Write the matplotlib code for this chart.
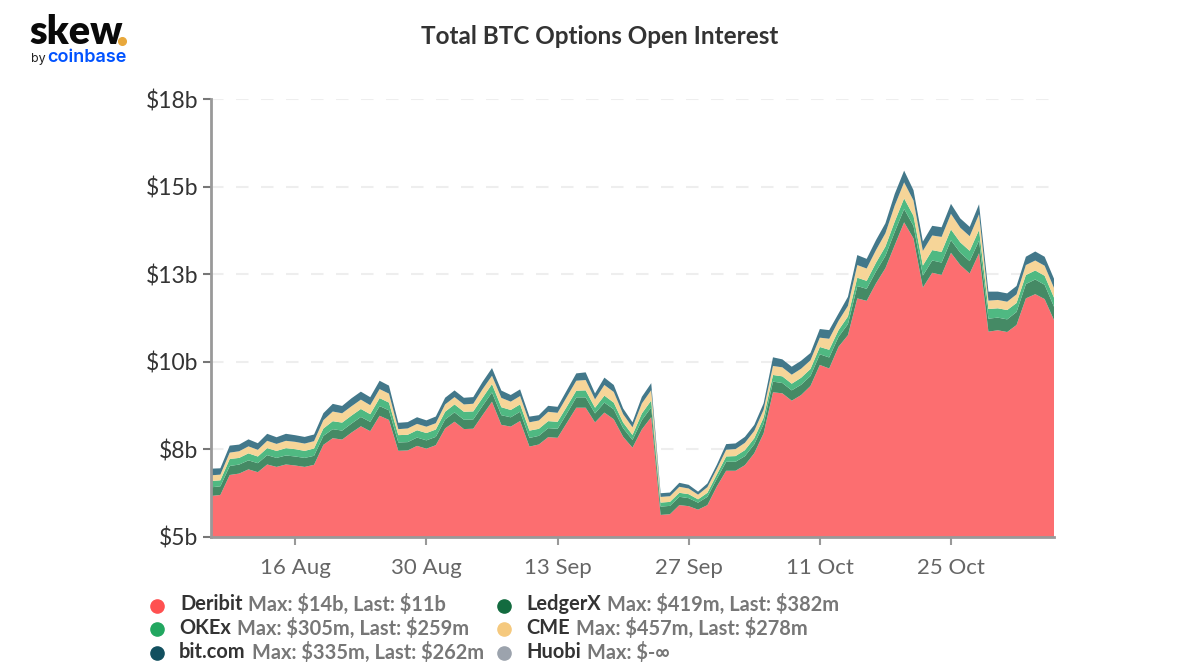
import matplotlib
matplotlib.use('Agg')
import matplotlib.pyplot as plt
import matplotlib.dates as mdates
import pandas as pd

FONT = 'Lato'
W, H = 1200, 670

# daily values, $b for Deribit and $m for the smaller venues
deribit = [6.17, 6.20, 6.77, 6.81, 6.93, 6.85, 7.07, 7.00, 7.07, 7.04,
           7.00, 7.06, 7.63, 7.82, 7.78, 7.98, 8.16, 8.02, 8.46, 8.34,
           7.46, 7.47, 7.60, 7.52, 7.62, 8.10, 8.29, 8.08, 8.09, 8.48,
           8.86, 8.20, 8.15, 8.31, 7.58, 7.64, 7.85, 7.83, 8.26, 8.69,
           8.69, 8.27, 8.55, 8.36, 7.86, 7.55, 8.07, 8.42, 5.63, 5.65,
           5.91, 5.88, 5.78, 5.91, 6.44, 6.89, 6.89, 7.05, 7.39, 7.96,
           9.13, 9.10, 8.89, 9.05, 9.31, 9.91, 9.81, 10.43, 10.76, 11.81,
           11.74, 12.24, 12.67, 13.33, 13.98, 13.52, 12.12, 12.54, 12.48, 13.11,
           12.76, 12.52, 13.10, 10.86, 10.90, 10.85, 11.05, 11.81, 11.93, 11.79,
           11.19]
ledgerx = [247, 247, 257, 257, 257, 257, 266, 257, 257, 257,
           257, 257, 257, 257, 257, 257, 266, 266, 276, 276,
           238, 238, 238, 238, 238, 257, 266, 266, 266, 266,
           266, 276, 266, 266, 247, 247, 257, 257, 266, 295,
           295, 257, 285, 285, 247, 219, 266, 276, 238, 238,
           238, 228, 200, 238, 219, 257, 257, 257, 257, 266,
           304, 295, 295, 295, 285, 304, 314, 285, 314, 352,
           342, 342, 352, 380, 380, 361, 342, 352, 352, 361,
           352, 352, 361, 371, 361, 361, 371, 409, 419, 409,
           382]
okex = [181, 171, 200, 190, 200, 190, 200, 200, 209, 209,
        200, 209, 209, 228, 228, 228, 228, 219, 228, 219,
        209, 209, 209, 209, 209, 219, 228, 228, 228, 228,
        238, 228, 209, 209, 209, 200, 200, 200, 200, 190,
        200, 162, 200, 190, 162, 143, 190, 200, 114, 114,
        114, 114, 95, 114, 124, 152, 162, 171, 171, 181,
        190, 190, 190, 200, 200, 209, 219, 190, 219, 238,
        228, 247, 266, 295, 304, 285, 285, 295, 304, 305,
        295, 295, 304, 276, 266, 266, 257, 257, 257, 257,
        259]
cme = [162, 162, 181, 190, 200, 190, 209, 200, 209, 209,
       209, 209, 238, 276, 266, 266, 266, 257, 257, 257,
       171, 181, 181, 181, 181, 209, 209, 209, 219, 247,
       238, 266, 238, 238, 238, 238, 266, 257, 276, 285,
       295, 238, 304, 304, 238, 219, 285, 295, 162, 162,
       171, 162, 133, 162, 162, 190, 200, 209, 209, 228,
       257, 257, 257, 257, 247, 266, 314, 266, 304, 361,
       352, 361, 380, 456, 457, 437, 418, 418, 428, 447,
       418, 418, 447, 238, 238, 238, 247, 285, 285, 285,
       278]
bitcom = [190, 181, 200, 190, 200, 190, 200, 190, 200, 190,
          190, 190, 200, 219, 209, 228, 228, 228, 238, 228,
          181, 181, 190, 181, 190, 190, 190, 190, 190, 209,
          219, 209, 190, 190, 162, 152, 171, 171, 190, 209,
          219, 171, 209, 200, 162, 143, 190, 200, 105, 105,
          114, 105, 86, 105, 114, 162, 162, 171, 171, 181,
          247, 228, 228, 228, 209, 247, 247, 209, 257, 285,
          276, 285, 285, 333, 335, 295, 266, 276, 276, 285,
          266, 266, 285, 257, 238, 238, 238, 238, 257, 257,
          262]

dates = pd.date_range('2021-08-07', periods=len(deribit))
y_ticks = [5, 7.5, 10, 12.5, 15, 17.5]
y_labels = ['\\$5b', '\\$8b', '\\$10b', '\\$13b', '\\$15b', '\\$18b']
x_ticks = ['2021-08-16', '2021-08-30', '2021-09-13', '2021-09-27', '2021-10-11', '2021-10-25']

legend_rows = [
    ('Deribit', 'Max: \\$14b, Last: \\$11b', '#ff5050', 157, 180, 606, 604),
    ('OKEx', 'Max: \\$305m, Last: \\$259m', '#22a760', 157, 179, 629, 628),
    ('bit.com', 'Max: \\$335m, Last: \\$262m', '#12505f', 157, 179, 653, 652),
    ('LedgerX', 'Max: \\$419m, Last: \\$382m', '#136b3f', 504, 526, 606, 604),
    ('CME', 'Max: \\$457m, Last: \\$278m', '#f5c97e', 504, 526, 629, 628),
    ('Huobi', 'Max: \\$-∞', '#9ca3ad', 504, 526, 653, 652),
]


def px(x, y):
    return x / W, 1 - y / H


fig = plt.figure(figsize=(W / 100, H / 100), dpi=100)
ax = fig.add_axes([211 / W, 1 - 537 / H, (1054 - 211) / W, (537 - 99) / H])

ax.stackplot(dates,
             deribit,
             [v / 1000 for v in ledgerx],
             [v / 1000 for v in okex],
             [v / 1000 for v in cme],
             [v / 1000 for v in bitcom],
             colors=['#fc6e70', '#458a65', '#4fb982', '#f6d598', '#43788a'],
             linewidth=0, zorder=3)

ax.set_xlim(dates[0], dates[-1])
ax.set_ylim(5, 17.5)
ax.set_yticks(y_ticks)
ax.set_yticklabels(y_labels, fontname=FONT, fontsize=16.5, color='#333333')
ax.set_xticks(pd.to_datetime(x_ticks))
ax.xaxis.set_major_formatter(mdates.DateFormatter('%d %b'))
for lab in ax.get_xticklabels():
    lab.set_fontname(FONT)
    lab.set_fontsize(16)
    lab.set_color('#666666')
ax.tick_params(axis='y', length=6, width=1.5, color='#777777', pad=3)
ax.tick_params(axis='x', length=6, width=1.5, color='#999999', pad=9)
ax.grid(axis='y', color='#eeeeee', linestyle=(0, (6, 6)), linewidth=1.5, zorder=1)
for side in ['top', 'right']:
    ax.spines[side].set_visible(False)
for side in ['left', 'bottom']:
    ax.spines[side].set_color('#999999')
    ax.spines[side].set_linewidth(2)
    ax.spines[side].set_zorder(5)

# title
fig.text(*px(600, 37), 'Total BTC Options Open Interest', fontname=FONT, fontsize=17.5,
         fontweight='bold', color='#333333', ha='center', va='center')

# logo
fig.text(*px(29, 44), 'skew', fontname=FONT, fontsize=28.5, fontweight='heavy', color='#0a0a0a',
         ha='left', va='baseline')
fig.add_artist(plt.Line2D([121.5 / W], [1 - 40.5 / H], marker='o', markersize=5.5, color='#e8a83c',
                          linestyle='none', transform=fig.transFigure))
fig.text(*px(31, 62), 'by', fontname='Inter', fontsize=9, color='#222222', ha='left', va='baseline')
fig.text(*px(47, 62), 'coinbase', fontname='Inter', fontsize=13, fontweight='semibold', color='#0052ff',
         ha='left', va='baseline')

# legend, the grey part starts where the venue name ends
fig.canvas.draw()
renderer = fig.canvas.get_renderer()
for name, stats, color, dot_x, text_x, dot_y, text_y in legend_rows:
    fig.add_artist(plt.Line2D([dot_x / W], [1 - dot_y / H], marker='o', markersize=9.5,
                              color=color, linestyle='none', transform=fig.transFigure))
    t = fig.text(*px(text_x, text_y), name, fontname=FONT, fontsize=14.4, fontweight='bold',
                 color='#333333', ha='left', va='center')
    end = t.get_window_extent(renderer).x1
    fig.text(*px(end + 6, text_y), stats, fontname=FONT, fontsize=14.4, fontweight='bold',
             color='#777777', ha='left', va='center')

fig.savefig('out.png', dpi=100)
